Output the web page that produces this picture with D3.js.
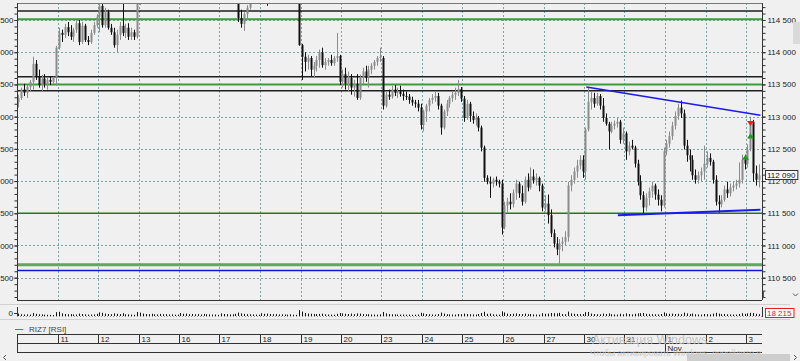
<!DOCTYPE html>
<html>
<head>
<meta charset="utf-8">
<script src="https://cdn.jsdelivr.net/npm/d3@7"></script>
<style>
body { margin: 0; background: #f0f0f0; overflow: hidden; }
text { font-family: "Liberation Sans", Arial, sans-serif; }
</style>
</head>
<body>
<div id="chart"></div>
<script>
// hourly bars, 14 per session
const open = [
113220,113290,113420,113370,113460,113540,113820,113630,113490,113590,113510,113570,113540,113600,
114070,114300,114270,114390,114310,114240,114350,114450,114160,114410,114190,114160,114300,114420,
114550,114720,114420,114620,114380,114310,114110,114270,114410,114300,114380,114240,114310,114240,
115040,115120,115240,115180,115310,115400,115270,115370,115490,115430,115550,115460,115580,115520,
115430,115370,115490,115620,115550,115680,115580,115710,115650,115520,115430,115550,115460,115370,
115270,115210,115340,115240,115150,115270,114960,114530,114440,114590,114690,114840,115000,115120,
115210,115270,115150,115090,115030,115180,115270,115370,115240,115340,115430,115310,115210,115120,
114110,113930,113850,113910,113730,113790,113880,114000,113800,113850,113880,113830,113910,113940,
113540,113660,113510,113600,113450,113510,113290,113600,113700,113600,113730,113790,113850,113910,
113910,113170,113340,113310,113420,113370,113390,113350,113320,113310,113260,113220,113200,113140,
112870,113080,113170,113260,113290,113320,113170,112830,113080,113200,113290,113340,113370,113430,
113280,112980,113200,113010,112950,112980,112830,112520,112050,111990,111960,112020,111990,111960,
111280,111620,111680,111640,111820,111960,111810,111680,112020,111900,112070,112010,112050,111930,
111590,111650,111470,111190,111030,110940,111030,111060,111130,111930,112020,112150,112240,112330,
112150,112800,113230,113290,113200,113320,113170,112980,112890,112770,112860,112890,112920,112640,
112740,112460,112550,112520,112270,111990,111780,111590,111740,111840,111930,111790,111710,111620,
112460,112580,112700,112860,113010,113140,113050,112550,112400,112330,112090,112020,112090,112150,
112270,112360,112300,112020,111680,111640,111710,111870,111810,111900,111930,111960,112020,112330,
112270,112490,112920,112120,112020
];
const high = [
113340,113450,113510,113490,113570,113930,113880,113730,113650,113660,113600,113630,113620,114100,
114380,114350,114440,114470,114420,114380,114500,114500,114470,114440,114250,114350,114470,114590,
114780,114810,114690,114660,114440,114380,114350,114470,114750,114440,114450,114380,114350,115120,
115200,115310,115340,115370,115460,115430,115430,115550,115550,115620,115620,115650,115650,115580,
115490,115550,115680,115680,115740,115710,115740,115740,115680,115550,115580,115620,115490,115400,
115340,115400,115370,115270,115310,115340,115040,114660,114620,114730,114890,115040,115180,115270,
115340,115310,115180,115120,115240,115340,115430,115400,115400,115490,115460,115340,115240,115180,
114130,114000,113960,113940,113850,113940,114040,114070,113910,113910,113960,113940,114300,113960,
113730,113760,113700,113660,113570,113660,113650,113760,113790,113790,113830,113880,113940,114070,
113940,113390,113420,113480,113490,113450,113480,113420,113390,113350,113310,113260,113260,113200,
113110,113200,113290,113350,113390,113370,113200,113110,113260,113320,113390,113450,113570,113460,
113320,113260,113230,113080,113050,113010,112860,112550,112090,112070,112050,112070,112020,112020,
111680,111740,111810,111870,112020,111990,111930,112070,112120,112210,112180,112120,112070,111960,
111780,111790,111560,111250,111130,111100,111130,111220,111990,112090,112210,112330,112400,112400,
112830,113450,113390,113370,113370,113350,113290,113050,112920,112920,112940,112980,112950,112830,
112770,112610,112640,112550,112330,112090,111840,111810,111900,111990,111960,111870,111780,112520,
112640,112770,112920,113080,113200,113250,113110,112640,112490,112400,112180,112150,112210,112550,
112460,112430,112330,112090,111780,111780,111930,111990,111960,111990,112020,112290,112410,112410,
112570,113000,112950,112240,112260
];
const low = [
113140,113260,113320,113290,113390,113420,113570,113450,113390,113450,113420,113490,113510,113480,
114040,114160,114220,114250,114190,114160,114300,114110,114130,114160,114110,114130,114270,114380,
114310,114380,114380,114350,114270,114070,114000,114190,114250,114220,114190,114190,114190,114210,
114730,115060,115120,115120,115240,115210,115210,115310,115370,115370,115400,115400,115460,115370,
115310,115340,115430,115490,115520,115550,115550,115620,115460,115370,115400,115400,115310,115210,
115150,115180,115180,115090,115120,114870,114470,114380,114330,114500,114660,114830,114960,115060,
115150,115120,114720,114750,114960,115120,115210,115180,115180,115310,115240,115150,115060,114100,
113570,113700,113730,113630,113600,113700,113760,113760,113730,113790,113790,113790,113850,113490,
113450,113420,113390,113340,113310,113260,113260,113510,113540,113450,113660,113730,113790,113850,
113110,113140,113260,113280,113320,113290,113310,113250,113260,113200,113170,113140,113080,112800,
112770,112920,113080,113200,113230,113110,112720,112800,113010,113140,113230,113260,113320,113230,
112920,112950,112920,112890,112860,112770,112460,111990,111950,111740,111900,111930,111900,111170,
111250,111500,111560,111590,111710,111740,111620,111650,111840,111870,111960,111930,111840,111530,
111530,111340,111130,110970,110850,110690,110910,111000,111060,111840,111960,112050,112180,112050,
112020,112770,113110,113140,113170,113110,112920,112860,112490,112740,112800,112830,112580,112580,
112330,112400,112490,112210,111930,111710,111500,111530,111620,111740,111710,111620,111530,111590,
112400,112520,112640,112800,112950,112980,112490,112300,112150,112020,111960,111960,111990,112020,
112210,112240,111960,111620,111510,111590,111680,111740,111760,111840,111870,111900,111960,112180,
112210,112460,111990,111930,111900
];
const close = [
113290,113420,113370,113460,113540,113820,113630,113490,113590,113510,113570,113540,113600,114070,
114300,114270,114390,114310,114240,114350,114450,114160,114410,114190,114160,114300,114420,114550,
114720,114420,114620,114380,114310,114110,114270,114410,114300,114380,114240,114310,114240,115040,
115120,115240,115180,115310,115400,115270,115370,115490,115430,115550,115460,115580,115520,115430,
115370,115490,115620,115550,115680,115580,115710,115650,115520,115430,115550,115460,115370,115270,
115210,115340,115240,115150,115270,114960,114530,114440,114590,114690,114840,115000,115120,115210,
115270,115150,115090,115030,115180,115270,115370,115240,115340,115430,115310,115210,115120,114110,
113930,113850,113910,113730,113790,113880,114000,113800,113850,113880,113830,113910,113940,113540,
113660,113510,113600,113450,113510,113290,113600,113700,113600,113730,113790,113850,113910,113930,
113170,113340,113310,113420,113370,113390,113350,113320,113310,113260,113220,113200,113140,112870,
113080,113170,113260,113290,113320,113170,112830,113080,113200,113290,113340,113370,113430,113280,
112980,113200,113010,112950,112980,112830,112520,112050,111990,111960,112020,111990,111960,111280,
111620,111680,111640,111820,111960,111810,111680,112020,111900,112070,112010,112050,111930,111590,
111650,111470,111190,111030,110940,111030,111060,111130,111930,112020,112150,112240,112330,112150,
112800,113230,113290,113200,113320,113170,112980,112890,112770,112860,112890,112920,112640,112740,
112460,112550,112520,112270,111990,111780,111590,111740,111840,111930,111790,111710,111620,112460,
112580,112700,112860,113010,113140,113050,112550,112400,112330,112090,112020,112090,112150,112270,
112360,112300,112020,111680,111640,111710,111870,111810,111900,111930,111960,112020,112330,112270,
112490,112920,112120,112020,112090
];
const volume = [
24000,18000,15000,16000,14000,30000,22000,17000,16000,13000,12000,11000,10000,38000,
42000,26000,20000,18000,19000,16000,15000,24000,20000,17000,14000,15000,16000,22000,
36000,32000,24000,20000,18000,26000,22000,19000,28000,17000,16000,14000,12000,40000,
34000,24000,20000,18000,22000,17000,16000,21000,18000,19000,15000,16000,13000,14000,
30000,22000,24000,18000,20000,17000,19000,15000,21000,18000,16000,14000,15000,12000,
26000,20000,18000,16000,17000,22000,34000,26000,21000,18000,17000,16000,14000,13000,
28000,22000,24000,20000,18000,19000,16000,17000,15000,14000,16000,13000,12000,58000,
44000,30000,24000,22000,20000,19000,21000,23000,17000,15000,14000,13000,22000,30000,
26000,22000,20000,24000,18000,26000,24000,19000,17000,18000,15000,14000,13000,16000,
40000,26000,19000,17000,16000,15000,14000,15000,13000,14000,12000,13000,15000,32000,
26000,20000,18000,15000,14000,19000,34000,24000,18000,16000,15000,14000,20000,18000,
24000,20000,18000,16000,15000,20000,30000,42000,22000,24000,17000,15000,13000,46000,
36000,24000,20000,22000,26000,20000,19000,24000,18000,20000,16000,15000,14000,28000,
22000,24000,30000,28000,26000,32000,20000,18000,44000,26000,22000,20000,18000,19000,
38000,40000,24000,20000,18000,17000,24000,20000,26000,18000,16000,15000,22000,17000,
26000,20000,16000,22000,26000,28000,30000,22000,19000,18000,17000,16000,20000,36000,
26000,22000,24000,20000,22000,18000,34000,26000,20000,24000,17000,15000,14000,20000,
18000,16000,24000,32000,24000,18000,20000,17000,16000,15000,14000,20000,28000,22000,
26000,32000,30000,22000,18215
];

const dayLabels = ['11','12','13','16','17','18','19','20','23','24','25','26','27','30','31','1','2','3'];
const monthLabels = [{day: 16, text: 'Nov'}];
const barsPerDay = 14;
const priceTicks = [110500,111000,111500,112000,112500,113000,113500,114000,114500];

// horizontal levels drawn on the chart
const levels = [114640, 114510, 113620, 113500, 113400, 111500, 110700, 110610];
const levelColor = ['#1e1e1e','#3c9c3c','#1e1e1e','#3c9c3c','#1e1e1e','#1d7a1d','#5aaa5a','#1414d8'];
const levelWidth = [1.5, 2, 1.5, 2, 1.5, 1.5, 3, 1.5];

// trend lines: [bar, price]
const trendUpper = [[196.3, 113460], [256.5, 113020]];
const trendLower = [[207.2, 111470], [256.5, 111555]];

const sellSignals = [{bar: 253, price: 112900}];
const buySignals = [{bar: 253, price: 112690}, {bar: 251, price: 112360}];

const lastPrice = 112090;
const lastVolume = 18215;

const W = 800, H = 361;
const plotLeft = 17, plotRight = 762, plotTop = 3, plotBottom = 300;
const step = 40.5 / barsPerDay;
const N = close.length;

const x = d3.scaleLinear().domain([0, N]).range([plotLeft, plotLeft + N * step]);
const y = d3.scaleLinear().domain([110500, 114500]).range([277.7, 20]);
const vy = d3.scaleLinear().domain([0, 100000]).range([316, 306]);
const fmt = d => d3.format(',')(d).replace(/,/g, ' ');
const cx = i => Math.round(x(i + 0.5)) + 0.5;

const svg = d3.select('#chart').append('svg')
	.attr('width', W)
	.attr('height', H)
	.style('display', 'block');
svg.append('rect').attr('width', W).attr('height', H).attr('fill', '#f0f0f0');

svg.append('defs').append('clipPath').attr('id', 'plot')
	.append('rect')
	.attr('x', plotLeft).attr('y', plotTop)
	.attr('width', plotRight - plotLeft).attr('height', plotBottom - plotTop);

// grid
const grid = svg.append('g').attr('stroke', '#7aa6a6').attr('stroke-dasharray', '2,2').attr('stroke-width', 1);
grid.selectAll('.hg')
	.data(priceTicks)
	.enter()
	.append('line')
	.attr('x1', plotLeft).attr('x2', plotRight)
	.attr('y1', d => Math.round(y(d)) + 0.5)
	.attr('y2', d => Math.round(y(d)) + 0.5);
grid.selectAll('.vg')
	.data(dayLabels)
	.enter()
	.append('line')
	.attr('x1', (d, i) => Math.round(x((i + 1) * barsPerDay)) + 0.5)
	.attr('x2', (d, i) => Math.round(x((i + 1) * barsPerDay)) + 0.5)
	.attr('y1', plotTop).attr('y2', plotBottom);

const plot = svg.append('g').attr('clip-path', 'url(#plot)');

// level lines
plot.selectAll('.lvl')
	.data(levels)
	.enter()
	.append('line')
	.attr('x1', plotLeft).attr('x2', plotRight)
	.attr('y1', d => y(d)).attr('y2', d => y(d))
	.attr('stroke', (d, i) => levelColor[i])
	.attr('stroke-width', (d, i) => levelWidth[i]);

// candles
const idx = d3.range(N);
plot.selectAll('.wick')
	.data(idx)
	.enter()
	.append('line')
	.attr('x1', i => cx(i)).attr('x2', i => cx(i))
	.attr('y1', i => y(high[i])).attr('y2', i => y(low[i]))
	.attr('stroke', i => close[i] >= open[i] ? '#8c8c8c' : '#111');
plot.selectAll('.body')
	.data(idx)
	.enter()
	.append('rect')
	.attr('x', i => cx(i) - 1)
	.attr('width', 2)
	.attr('y', i => y(Math.max(open[i], close[i])))
	.attr('height', i => Math.max(1, Math.abs(y(open[i]) - y(close[i]))))
	.attr('fill', i => close[i] >= open[i] ? '#8c8c8c' : '#111');

// trend lines
[trendUpper, trendLower].forEach((t, k) => {
	plot.append('line')
		.attr('x1', x(t[0][0] + 0.5)).attr('y1', y(t[0][1]))
		.attr('x2', x(t[1][0] + 0.5)).attr('y2', y(t[1][1]))
		.attr('stroke', '#1a1aee')
		.attr('stroke-width', k === 0 ? 1.5 : 2);
});

// signals
plot.selectAll('.sell')
	.data(sellSignals)
	.enter()
	.append('path')
	.attr('d', d => {
		const px = cx(d.bar), py = y(d.price);
		return `M${px - 3.5},${py - 2}L${px + 3.5},${py - 2}L${px},${py + 3}Z`;
	})
	.attr('fill', '#e82020');
plot.selectAll('.buy')
	.data(buySignals)
	.enter()
	.append('path')
	.attr('d', d => {
		const px = cx(d.bar), py = y(d.price);
		return `M${px - 3.5},${py + 2}L${px + 3.5},${py + 2}L${px},${py - 3}Z`;
	})
	.attr('fill', '#1c9a1c');

// frame
svg.append('line').attr('x1', plotLeft).attr('x2', plotRight).attr('y1', plotTop + 0.5).attr('y2', plotTop + 0.5).attr('stroke', '#777');
svg.append('line').attr('x1', plotLeft).attr('x2', plotRight).attr('y1', plotBottom + 0.5).attr('y2', plotBottom + 0.5).attr('stroke', '#333');
svg.append('line').attr('x1', plotLeft + 0.5).attr('x2', plotLeft + 0.5).attr('y1', plotTop).attr('y2', plotBottom).attr('stroke', '#333');
svg.append('line').attr('x1', plotRight + 0.5).attr('x2', plotRight + 0.5).attr('y1', plotTop).attr('y2', plotBottom).attr('stroke', '#333');

// axes
const minorTicks = d3.range(110200, 114800, 100);
const rMinor = svg.append('g').attr('transform', `translate(${plotRight + 0.5},0)`)
	.call(d3.axisRight(y).tickValues(minorTicks).tickSize(3).tickFormat(''));
const rAxis = svg.append('g').attr('transform', `translate(${plotRight + 0.5},0)`)
	.call(d3.axisRight(y).tickValues(priceTicks).tickSize(3).tickPadding(2).tickFormat(fmt));
const lMinor = svg.append('g').attr('transform', `translate(${plotLeft + 0.5},0)`)
	.call(d3.axisLeft(y).tickValues(minorTicks).tickSize(3).tickFormat(''));
const lAxis = svg.append('g').attr('transform', `translate(${plotLeft + 0.5},0)`)
	.call(d3.axisLeft(y).tickValues(priceTicks).tickSize(3).tickPadding(1).tickFormat(fmt));
[rMinor, rAxis, lMinor, lAxis].forEach(g => {
	g.select('.domain').remove();
	g.selectAll('line').attr('stroke', '#333');
	g.selectAll('text').attr('font-size', 8).attr('fill', '#222').attr('font-family', '"Liberation Sans", Arial, sans-serif');
});

// last price box
const lp = svg.append('g');
const lpText = lp.append('text')
	.attr('x', plotRight + 5).attr('y', y(lastPrice) + 3)
	.attr('font-size', 8).attr('fill', '#111')
	.text(fmt(lastPrice));
const lpw = lpText.node().getComputedTextLength();
lp.insert('rect', 'text')
	.attr('x', plotRight + 3.5).attr('y', Math.round(y(lastPrice)) - 4.5)
	.attr('width', lpw + 4).attr('height', 9)
	.attr('fill', '#f7f7f7').attr('stroke', '#333');

// volume panel
svg.append('line').attr('x1', 0).attr('x2', 790).attr('y1', 304.5).attr('y2', 304.5).attr('stroke', '#d0d0d0');
svg.append('line').attr('x1', 0).attr('x2', 790).attr('y1', 319.5).attr('y2', 319.5).attr('stroke', '#d0d0d0');
svg.append('line').attr('x1', plotLeft + 0.5).attr('x2', plotLeft + 0.5).attr('y1', 307).attr('y2', 317).attr('stroke', '#333');
svg.append('line').attr('x1', plotRight + 0.5).attr('x2', plotRight + 0.5).attr('y1', 307).attr('y2', 317).attr('stroke', '#333');
svg.append('line').attr('x1', plotLeft).attr('x2', plotRight).attr('y1', 316.5).attr('y2', 316.5).attr('stroke', '#999').attr('stroke-dasharray', '1,2');
svg.selectAll('.vol')
	.data(idx)
	.enter()
	.append('line')
	.attr('x1', i => cx(i)).attr('x2', i => cx(i))
	.attr('y1', vy(0)).attr('y2', i => vy(volume[i]))
	.attr('stroke', '#111');
svg.append('text').attr('x', 13).attr('y', 316).attr('text-anchor', 'end')
	.attr('font-size', 8).attr('fill', '#222').text('0');
svg.append('line').attr('x1', plotLeft - 3).attr('x2', plotLeft).attr('y1', 313.5).attr('y2', 313.5).attr('stroke', '#333');
const lv = svg.append('g');
const lvText = lv.append('text')
	.attr('x', plotRight + 5).attr('y', 315.5)
	.attr('font-size', 8).attr('fill', '#e02020')
	.text(fmt(lastVolume));
const lvw = lvText.node().getComputedTextLength();
lv.insert('rect', 'text')
	.attr('x', plotRight + 3.5).attr('y', 308.5)
	.attr('width', lvw + 4).attr('height', 9)
	.attr('fill', '#fff').attr('stroke', '#e02020');

// RSI legend
svg.append('line').attr('x1', 15).attr('x2', 23).attr('y1', 329.5).attr('y2', 329.5).attr('stroke', '#e04040');
svg.append('text').attr('x', 29).attr('y', 332).attr('font-size', 8).attr('fill', '#444').text('RIZ7 [RSI]');

// date axis
const dax = svg.append('g').attr('stroke', '#333');
[334.5, 343.5, 352.5].forEach(v => dax.append('line').attr('x1', plotLeft).attr('x2', plotRight).attr('y1', v).attr('y2', v));
dax.append('line').attr('x1', plotLeft + 0.5).attr('x2', plotLeft + 0.5).attr('y1', 334).attr('y2', 353);
dax.selectAll('.dt')
	.data(dayLabels)
	.enter()
	.append('line')
	.attr('x1', (d, i) => Math.round(x((i + 1) * barsPerDay)) + 0.5)
	.attr('x2', (d, i) => Math.round(x((i + 1) * barsPerDay)) + 0.5)
	.attr('y1', 334)
	.attr('y2', (d, i) => monthLabels.some(m => m.day === i + 1) ? 353 : 343);
svg.selectAll('.dl')
	.data(dayLabels)
	.enter()
	.append('text')
	.attr('x', (d, i) => Math.round(x((i + 1) * barsPerDay)) + 2.5)
	.attr('y', 341.5)
	.attr('font-size', 8)
	.attr('fill', '#222')
	.text(d => d);
svg.selectAll('.ml')
	.data(monthLabels)
	.enter()
	.append('text')
	.attr('x', d => Math.round(x(d.day * barsPerDay)) + 2.5)
	.attr('y', 350.5)
	.attr('font-size', 8)
	.attr('fill', '#222')
	.text(d => d.text);

// watermark
svg.append('text').attr('x', 592).attr('y', 343.5).attr('font-size', 12.5).attr('fill', '#bdbdbd').attr('opacity', 0.85).text('Активация Windows');
svg.append('text').attr('x', 590).attr('y', 356).attr('font-size', 8.5).attr('fill', '#c4c4c4').attr('opacity', 0.85).text('Чтобы активировать Windows, перейдите в');

// scrollbars
svg.append('rect').attr('x', 687).attr('y', 354).attr('width', 103).attr('height', 7).attr('fill', '#cdcdcd');
svg.append('rect').attr('x', 793).attr('y', 22).attr('width', 7).attr('height', 22).attr('fill', '#dadada');
const chev = svg.append('g').attr('fill', 'none').attr('stroke', '#555').attr('stroke-width', 1);
chev.append('path').attr('d', 'M6,355L3.5,357.5L6,360');
chev.append('path').attr('d', 'M794,355L796.5,357.5L794,360');
chev.append('path').attr('d', 'M793,293.5L795.5,296L798,293.5');
chev.append('path').attr('d', 'M763.5,291L763.5,298');
</script>
</body>
</html>
